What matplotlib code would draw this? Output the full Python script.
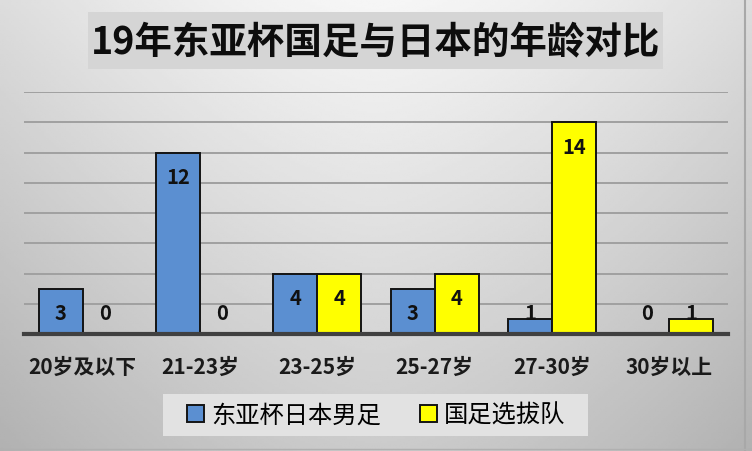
import matplotlib
matplotlib.use("Agg")
import matplotlib.pyplot as plt
import numpy as np
from matplotlib.patches import Rectangle

plt.rcParams['font.family'] = ['Noto Sans CJK SC', 'DejaVu Sans']

title = "19年东亚杯国足与日本的年龄对比"
categories = ["20岁及以下", "21-23岁", "23-25岁", "25-27岁", "27-30岁", "30岁以上"]
series_names = ["东亚杯日本男足", "国足选拔队"]
japan = [3, 12, 4, 3, 1, 0]
china = [0, 0, 4, 4, 14, 1]

W, H = 752, 452
fig = plt.figure(figsize=(W / 100, H / 100), dpi=100)

# gradient background
bg = fig.add_axes([0, 0, 1, 1], zorder=-10)
yy, xx = np.mgrid[0:1:200j, 0:1:300j]
val = 0.965 - 0.17 * yy - 0.10 * (np.abs(xx - 0.5) * 2) ** 1.5
bg.imshow(val, cmap='gray', vmin=0, vmax=1, aspect='auto', extent=[0, 1, 0, 1], origin='upper')
bg.plot([0.991, 0.991], [0.0, 1.0], color='#a8a8a8', lw=1.5)
bg.plot([0, 1], [0.004, 0.004], color='#b0b0b0', lw=1)
bg.set_xlim(0, 1); bg.set_ylim(0, 1)
bg.axis('off')

# title box
fig.patches.append(Rectangle((88 / W, 1 - 70 / H), (663 - 88) / W, (70 - 13) / H,
                             transform=fig.transFigure, facecolor='#d5d5d5', edgecolor='none', zorder=1))
fig.text(376 / W, 1 - 42 / H, title, ha='center', va='center', fontsize=27, fontweight='bold',
         color='#0d0d0d', zorder=2)

# legend box
fig.patches.append(Rectangle((163 / W, 1 - 437 / H), (588 - 163) / W, (437 - 395) / H,
                             transform=fig.transFigure, facecolor='#e2e2e2', edgecolor='none', zorder=1))

ax = fig.add_axes([24 / W, 1 - 335 / H, (728 - 24) / W, (335 - 93) / H])
ax.patch.set_alpha(0)
x = np.arange(len(categories))
bw = 0.375
b1 = ax.bar(x - bw / 2, japan, bw, color='#5b8fd1', edgecolor='#141414', linewidth=1.4, zorder=3,
            label=series_names[0])
b2 = ax.bar(x + bw / 2, china, bw, color='#ffff00', edgecolor='#141414', linewidth=1.4, zorder=3,
            label=series_names[1])

for xs, vals in ((x - bw / 2, japan), (x + bw / 2, china)):
    for xi, v in zip(xs, vals):
        ax.text(xi, max(v - 1.6, 1.45), str(v), ha='center', va='center', fontsize=14.5,
                fontweight='bold', color='#111111', zorder=5)

ax.set_xlim(-0.5, len(categories) - 0.5)
ax.set_ylim(0, 16)
ax.set_yticks(np.arange(0, 17, 2))
ax.yaxis.grid(True, color='#a0a0a0', linewidth=1.4, zorder=0)
ax.set_axisbelow(True)
ax.tick_params(axis='y', left=False, labelleft=False)
ax.set_xticks(x)
ax.set_xticklabels(categories, fontsize=15, fontweight='bold', color='#1a1a1a')
ax.tick_params(axis='x', length=0, pad=16)
for s in ('top', 'right', 'left'):
    ax.spines[s].set_visible(False)
ax.spines['bottom'].set_color('#404040')
ax.spines['bottom'].set_linewidth(3)
ax.spines['bottom'].set_zorder(4)

leg = fig.legend(handles=[b1, b2], labels=series_names, loc='center',
                 bbox_to_anchor=(376 / W, 1 - 416 / H), ncol=2, fontsize=17.5, frameon=False,
                 handlelength=0.7, handleheight=0.7, handletextpad=0.3,
                 columnspacing=1.6, borderpad=0.3)

fig.savefig("out.png", dpi=100)
